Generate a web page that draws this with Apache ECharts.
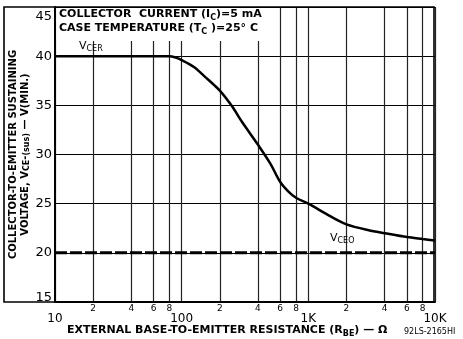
<!DOCTYPE html>
<html><head><meta charset="utf-8">
<script src="https://cdn.jsdelivr.net/npm/echarts@6/dist/echarts.min.js"></script>
<style>html,body{margin:0;padding:0;background:#fff}#c{width:463px;height:339px}</style>
</head><body><div id="c"></div>
<script>
const FONT = '"DejaVu Sans", sans-serif';
// Data
const vcerR = [10, 50, 80, 90, 100, 125, 150, 200, 250, 300, 400, 500, 600, 700, 800, 1000, 1500, 2000, 3000, 4000, 6000, 8000, 10000];
const vcerV = [40, 40, 40, 39.85, 39.6, 38.9, 38.0, 36.5, 34.9, 33.3, 31.0, 29.1, 27.2, 26.2, 25.6, 25.0, 23.7, 22.9, 22.3, 22.0, 21.6, 21.4, 21.25];
const vceoR = [10, 10000];
const vceoV = [20, 20];
const xMajorValues = [10, 100, 1000, 10000];
const xMajorLabels = ['10', '100', '1K', '10K'];
const xMinorValues = [20, 40, 60, 80, 200, 400, 600, 800, 2000, 4000, 6000, 8000];
const xMinorLabels = ['2', '4', '6', '8', '2', '4', '6', '8', '2', '4', '6', '8'];
const yTicks = [15, 20, 25, 30, 35, 40, 45];

const chart = echarts.init(document.getElementById('c'));
const majorMap = {};
xMajorValues.forEach((v, i) => majorMap[v] = xMajorLabels[i]);

chart.setOption({
  animation: false,
  backgroundColor: '#fff',
  grid: { left: 55, right: 28, top: 7, bottom: 37, containLabel: false, outerBoundsMode: 'none' },
  xAxis: {
    type: 'log', logBase: 10, min: 10, max: 10000,
    axisLine: { show: true, lineStyle: { color: '#000', width: 2 } },
    axisTick: { show: false },
    splitLine: { show: true, lineStyle: { color: '#222', width: 1.2 } },
    axisLabel: {
      margin: 11, color: '#000', fontFamily: FONT, fontSize: 12, hideOverlap: false,
      formatter: v => majorMap[Math.round(v)] || ''
    }
  },
  yAxis: {
    type: 'value', min: yTicks[0], max: yTicks[yTicks.length - 1], interval: 5,
    axisLine: { show: true, lineStyle: { color: '#000', width: 2 } },
    axisTick: { show: false },
    splitLine: { show: true, lineStyle: { color: '#000', width: 1 } },
    axisLabel: {
      margin: 3, color: '#000', fontFamily: FONT, fontSize: 13, hideOverlap: false,
      formatter: v => v === 45 ? '{t|45}' : (v === 15 ? '{b|15}' : String(v)),
      rich: {
        t: { fontFamily: FONT, fontSize: 13, color: '#000', padding: [19, 0, 0, 0] },
        b: { fontFamily: FONT, fontSize: 13, color: '#000', padding: [0, 0, 8, 0] }
      }
    },
    name: 'COLLECTOR-TO-EMITTER SUSTAINING\nVOLTAGE, V{s|CE}-{s|(sus)} — V(MIN.)',
    nameLocation: 'middle', nameRotate: 90, nameGap: 24, nameMoveOverlap: false,
    nameTextStyle: {
      color: '#000', fontFamily: FONT, fontSize: 10, fontWeight: 'bold', lineHeight: 12,
      rich: { s: { fontFamily: FONT, fontSize: 8, fontWeight: 'bold', color: '#000', verticalAlign: 'bottom', padding: [4, 0, 0, 0] } }
    }
  },
  series: [
    {
      type: 'line', data: vcerR.map((r, i) => [r, vcerV[i]]),
      smooth: 0.3, symbol: 'none', z: 5,
      lineStyle: { color: '#000', width: 2.5 }
    },
    {
      type: 'line', data: vceoR.map((r, i) => [r, vceoV[i]]),
      symbol: 'none', z: 5,
      lineStyle: { color: '#000', width: 3, type: [12, 3] }
    },
    {
      type: 'line', data: [], z: 1,
      markLine: {
        silent: true, symbol: 'none', animation: false,
        lineStyle: { color: '#222', width: 1.2, type: 'solid' },
        label: { show: true, position: 'start', distance: 2, color: '#000', fontFamily: FONT, fontSize: 9, formatter: p => p.name },
        data: xMinorValues.map((v, i) => ({ xAxis: v, name: xMinorLabels[i] }))
      }
    }
  ],
  graphic: [
    { type: 'rect', z: 50, shape: { x: 56.5, y: 8, width: 222, height: 33 }, style: { fill: '#fff' } },
    { type: 'text', z: 60, left: 59, top: 9, style: {
      text: 'COLLECTOR  CURRENT (I{s|C})=5 mA', fill: '#000', font: 'bold 11px ' + FONT,
      rich: { s: { fontSize: 8, fontWeight: 'bold', fontFamily: FONT, fill: '#000', padding: [6, 0, 0, 0] } } } },
    { type: 'text', z: 60, left: 59, top: 23, style: {
      text: 'CASE TEMPERATURE (T{s|C} )=25° C', fill: '#000', font: 'bold 11px ' + FONT,
      rich: { s: { fontSize: 8, fontWeight: 'bold', fontFamily: FONT, fill: '#000', padding: [6, 0, 0, 0] } } } },
    { type: 'text', z: 60, left: 79, top: 41, style: {
      text: 'V{s|CER}', fill: '#000', font: '11px ' + FONT,
      rich: { s: { fontSize: 8, fontFamily: FONT, fill: '#000', padding: [5, 0, 0, 0] } } } },
    { type: 'text', z: 60, left: 330, top: 233, style: {
      text: 'V{s|CEO}', fill: '#000', font: '11px ' + FONT,
      rich: { s: { fontSize: 8, fontFamily: FONT, fill: '#000', padding: [5, 0, 0, 0] } } } },
    { type: 'text', z: 60, left: 67, top: 325, style: {
      text: 'EXTERNAL BASE-TO-EMITTER RESISTANCE (R{s|BE}) — Ω', fill: '#000', font: 'bold 11px ' + FONT,
      rich: { s: { fontSize: 8, fontWeight: 'bold', fontFamily: FONT, fill: '#000', padding: [6, 0, 0, 0] } } } },
    { type: 'text', z: 60, left: 404, top: 328, style: { text: '92LS-2165HI', fill: '#000', font: '8px ' + FONT } },
    { type: 'rect', z: 70, shape: { x: 4, y: 7, width: 430, height: 295 }, style: { fill: 'none', stroke: '#000', lineWidth: 1.6 } }
  ]
});
</script></body></html>
